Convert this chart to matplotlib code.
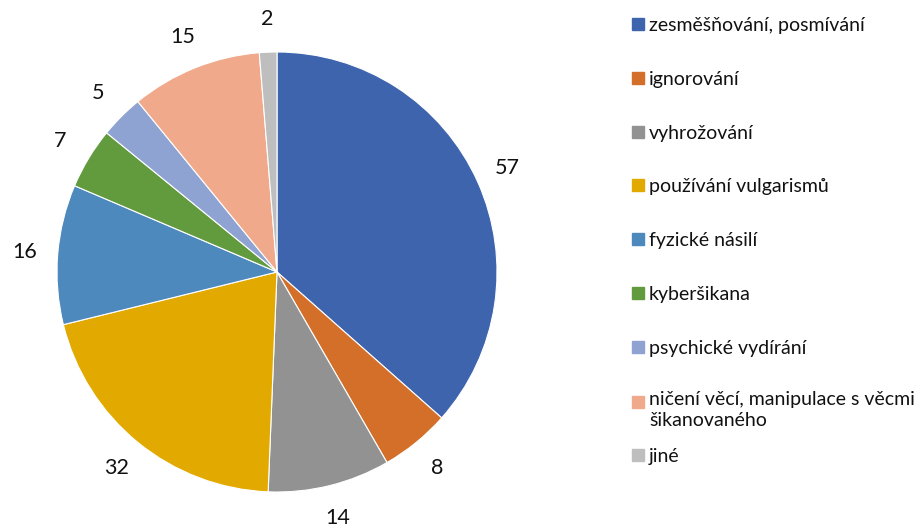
import matplotlib
matplotlib.use('Agg')
import matplotlib.pyplot as plt
from matplotlib.patches import Rectangle

plt.rcParams['font.family'] = ['Lato', 'DejaVu Sans']

# data
kategorie = ['zesměšňování, posmívání', 'ignorování', 'vyhrožování',
             'používání vulgarismů', 'fyzické násilí', 'kyberšikana',
             'psychické vydírání', 'ničení věcí, manipulace s věcmi\nšikanovaného',
             'jiné']
hodnoty = [57, 8, 14, 32, 16, 7, 5, 15, 2]
barvy = ['#3D64AD', '#D46F2A', '#929292', '#E2AA00', '#4E89BD',
         '#629A3E', '#8FA3D3', '#F0A98A', '#BEBEBE']

W, H = 923, 527
fig = plt.figure(figsize=(W / 100, H / 100), dpi=100)

# pie axes: center (277,272) px, radius 220 px
cx, cy, r = 277, 272, 220
ax = fig.add_axes([(cx - r) / W, (H - cy - r) / H, 2 * r / W, 2 * r / H])
celkem = sum(hodnoty)
ax.pie(hodnoty, colors=barvy, startangle=90, counterclock=False,
       autopct=lambda p: '%d' % round(p * celkem / 100), pctdistance=1.15,
       wedgeprops=dict(edgecolor='white', linewidth=0.8),
       textprops=dict(fontsize=15.5, color='#111111'))
ax.set_xlim(-1, 1)
ax.set_ylim(-1, 1)
ax.set_aspect('equal')

# legend drawn by hand
ys = [24, 78, 132, 185, 239, 293, 347, 402, 455]
for k, b, y in zip(kategorie, barvy, ys):
    fig.add_artist(Rectangle((632 / W, 1 - (y + 6) / H), 12 / W, 12 / H,
                             transform=fig.transFigure, color=b))
    if '\n' in k:
        fig.text(649 / W, 1 - (y - 11) / H, k, fontsize=14, va='top',
                 ha='left', color='#111111', linespacing=1.25)
    else:
        fig.text(649 / W, 1 - y / H, k, fontsize=14, va='center_baseline',
                 ha='left', color='#111111')

fig.savefig('out.png', dpi=100)
